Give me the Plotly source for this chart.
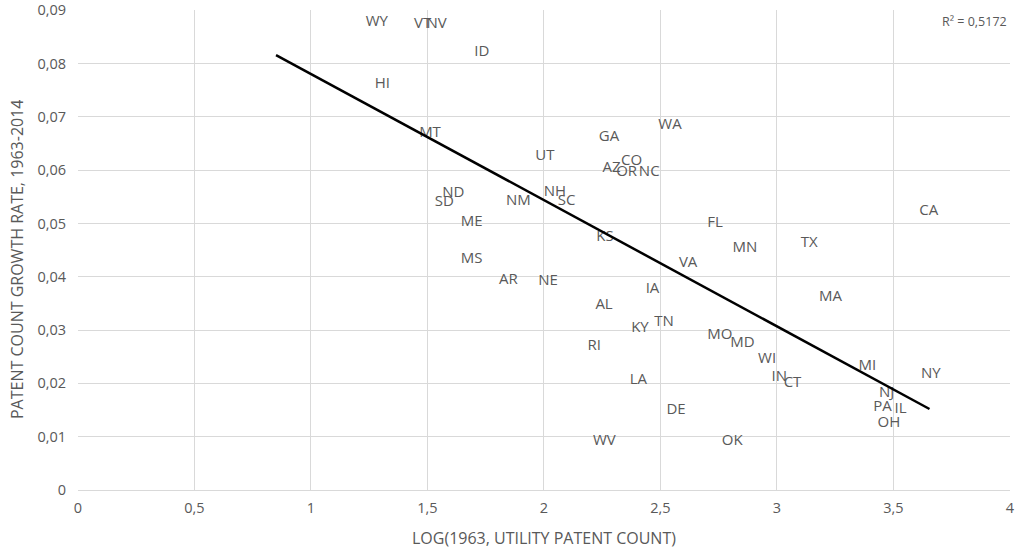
import plotly.graph_objects as go

states = ["WY", "VT", "NV", "ID", "HI", "MT", "GA", "WA", "UT", "AZ", "CO", "OR", "NC",
          "ND", "SD", "NM", "NH", "SC", "ME", "KS", "MS", "VA", "AR", "NE", "FL", "MN",
          "TX", "IA", "AL", "MA", "KY", "TN", "RI", "MO", "MD", "WI", "IN", "CT", "LA",
          "DE", "WV", "OK", "MI", "NY", "NJ", "PA", "IL", "OH", "CA"]
log_patents = [1.283, 1.479, 1.539, 1.733, 1.306, 1.511, 2.279, 2.541, 2.004, 2.290, 2.376, 2.355, 2.452,
               1.611, 1.572, 1.890, 2.047, 2.097, 1.690, 2.262, 1.690, 2.619, 1.847, 2.018, 2.734, 2.863,
               3.139, 2.466, 2.258, 3.230, 2.412, 2.515, 2.216, 2.755, 2.852, 2.958, 3.010, 3.067, 2.405,
               2.567, 2.259, 2.808, 3.388, 3.661, 3.471, 3.453, 3.531, 3.481, 3.652]
growth_rate = [0.0878, 0.0874, 0.0874, 0.0822, 0.0761, 0.0669, 0.0662, 0.0684, 0.0627, 0.0603, 0.0616, 0.0597, 0.0597,
               0.0557, 0.0539, 0.0541, 0.0559, 0.0542, 0.0503, 0.0475, 0.0433, 0.0425, 0.0394, 0.0392, 0.0501, 0.0453,
               0.0463, 0.0377, 0.0347, 0.0362, 0.0303, 0.0314, 0.0270, 0.0291, 0.0275, 0.0245, 0.0212, 0.0200, 0.0206,
               0.0150, 0.0092, 0.0092, 0.0233, 0.0217, 0.0181, 0.0155, 0.0152, 0.0125, 0.0523]

trend_x = [0.85, 3.655]
trend_y = [0.0816, 0.0152]
r2_text = "R² = 0,5172"
x_title = "LOG(1963, UTILITY PATENT COUNT)"
y_title = "PATENT COUNT GROWTH RATE, 1963-2014"

grey = "#595959"
grid = "#d9d9d9"
fam = "Open Sans"

fig = go.Figure()
fig.add_trace(go.Scatter(
    x=log_patents, y=growth_rate, mode="text", text=states,
    textposition="middle center",
    textfont=dict(family=fam, size=15, color=grey),
    showlegend=False, hoverinfo="skip"))
fig.add_trace(go.Scatter(
    x=trend_x, y=trend_y, mode="lines",
    line=dict(color="black", width=2.5), showlegend=False, hoverinfo="skip"))

fig.add_annotation(x=1, y=1, xref="paper", yref="paper", xanchor="right", yanchor="top",
                   text=r2_text, showarrow=False, xshift=-1, yshift=-1,
                   font=dict(family=fam, size=12.5, color=grey))
fig.add_annotation(x=0.5, y=0, xref="paper", yref="paper", xanchor="center", yanchor="middle",
                   text=x_title, showarrow=False, yshift=-48,
                   font=dict(family=fam, size=16, color=grey))
fig.add_annotation(x=0, y=0.5, xref="paper", yref="paper", xanchor="center", yanchor="middle",
                   text=y_title, showarrow=False, textangle=-90, xshift=-61, yshift=-10,
                   font=dict(family=fam, size=16, color=grey))

fig.update_layout(
    width=1019, height=550,
    margin=dict(l=78, r=9, t=10, b=60),
    paper_bgcolor="white", plot_bgcolor="white",
    separators=", ",
    font=dict(family=fam, color=grey, size=13),
    xaxis=dict(range=[0, 4.0005], dtick=0.5, tick0=0, showgrid=True, gridcolor=grid, gridwidth=1,
               zeroline=False, showline=False, ticks="", ticklabelstandoff=7, automargin=False,
               tickfont=dict(family=fam, size=14.5, color=grey)),
    yaxis=dict(range=[0, 0.09005], dtick=0.01, tick0=0, showgrid=True, gridcolor=grid, gridwidth=1,
               zeroline=True, zerolinecolor=grid, zerolinewidth=1, showline=False, ticks="",
               ticklabelstandoff=11, automargin=False,
               tickfont=dict(family=fam, size=14.5, color=grey)),
)

fig.write_html("out.html")
